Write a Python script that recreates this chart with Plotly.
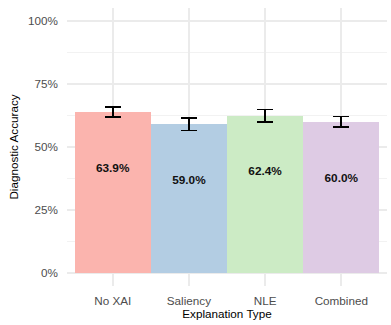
import plotly.graph_objects as go

categories = ["No XAI", "Saliency", "NLE", "Combined"]
accuracy = [0.639, 0.590, 0.624, 0.600]
err = [0.020, 0.025, 0.024, 0.021]
colors = ["#FBB4AE", "#B3CDE3", "#CCEBC5", "#DECBE4"]
label_offset = 0.225

fig = go.Figure()
fig.add_trace(go.Bar(
    x=categories, y=accuracy, width=1.0,
    marker=dict(color=colors, line=dict(width=0)),
    error_y=dict(type="data", array=err, visible=True, color="black", thickness=1.6, width=8),
    hoverinfo="skip",
))
fig.add_trace(go.Scatter(
    x=categories, y=[a - label_offset for a in accuracy],
    mode="text", text=[f"<b>{a*100:.1f}%</b>" for a in accuracy],
    textfont=dict(family="Liberation Sans, Arial, sans-serif", size=11.8, color="#111111"),
    hoverinfo="skip",
))

fig.update_layout(
    width=391, height=325,
    margin=dict(l=67, r=4, t=8, b=39),
    paper_bgcolor="white", plot_bgcolor="white",
    showlegend=False,
    font=dict(family="Liberation Sans, Arial, sans-serif", size=11.7, color="black"),
    bargap=0,
)
fig.update_xaxes(
    type="category", range=[-0.6, 3.6],
    showgrid=True, gridcolor="#EBEBEB", gridwidth=1.5,
    zeroline=False, showline=False,
    ticks="", ticklabelstandoff=6, tickfont=dict(size=11.7, color="#4D4D4D"),
    title=dict(text="Explanation Type", font=dict(size=11.7, color="black"), standoff=2),
)
fig.update_yaxes(
    range=[-0.05, 1.05],
    tickvals=[0, 0.25, 0.5, 0.75, 1.0],
    ticktext=["0%", "25%", "50%", "75%", "100%"],
    showgrid=True, gridcolor="#EBEBEB", gridwidth=1.5,
    minor=dict(tickvals=[0.125, 0.375, 0.625, 0.875], showgrid=True, gridcolor="#F2F2F2", gridwidth=1),
    zeroline=False, showline=False,
    ticks="", ticklabelstandoff=8, tickfont=dict(size=11.7, color="#4D4D4D"),
    title=dict(text="Diagnostic Accuracy", font=dict(size=11.7, color="black"), standoff=6),
)

fig.write_html("out.html")
